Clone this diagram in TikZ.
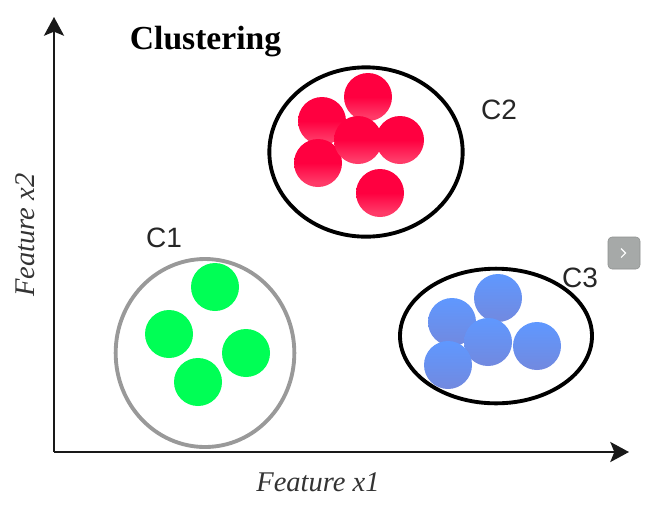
\documentclass[tikz,border=0pt]{standalone}
\usepackage{fontspec}
\setmainfont{Liberation Serif}
\newfontfamily\labelfont{Liberation Sans}
\usetikzlibrary{arrows.meta,shapes.geometric}
\definecolor{redtop}{HTML}{FF0040}
\definecolor{redbot}{HTML}{FF3A68}
\definecolor{bluetop}{HTML}{5F98FF}
\definecolor{bluebot}{HTML}{7289DF}
\definecolor{greendot}{HTML}{00FF55}
\definecolor{ringgray}{HTML}{999999}
\definecolor{btngray}{HTML}{A6A9A8}
\pgfdeclareverticalshading{redball}{100bp}{color(0bp)=(redbot); color(30bp)=(redbot); color(50bp)=(redtop); color(100bp)=(redtop)}
\tikzset{
  axisline/.style={line width=1.9pt,draw=black!90,-{Stealth[length=14pt,width=15pt,inset=3pt]}},
  ring/.style={ellipse,draw,line width=2.9pt,inner sep=0pt,outer sep=0pt},
  dot/.style={circle,minimum size=36pt,inner sep=0pt,outer sep=0pt},
  reddot/.style={dot,shade,shading=redball},
  bluedot/.style={dot,top color=bluetop,bottom color=bluebot},
  greenball/.style={dot,fill=greendot},
  clabel/.style={font=\labelfont\fontsize{21}{21}\selectfont,text=black!85},
  axislabel/.style={font=\itshape\fontsize{21.4}{21.4}\selectfont,text=black!80}
}
\begin{document}
\begin{tikzpicture}[x=0.75pt,y=-0.75pt]
\useasboundingbox (0,0) rectangle (648,508);
% axes
\coordinate (origin) at (54,452);
\coordinate (ytip) at (54,17);
\coordinate (xtip) at (629,452);
\draw[axisline] (origin) -- (ytip);
\draw[axisline] (origin) -- (xtip);
\node[axislabel] (xlabel) at (318,482) {Feature x1};
\node[axislabel,rotate=90] (ylabel) at (25,235) {Feature x2};
\node[font=\bfseries\fontsize{25.2}{25.2}\selectfont] (title) at (205.5,42) {Clustering};
% cluster C1
\node[ring,draw=ringgray,minimum width=134pt,minimum height=141pt] (ringa) at (205,353) {};
\node[greenball] (a1) at (215,287) {};
\node[greenball] (a2) at (169,334) {};
\node[greenball] (a3) at (246,353) {};
\node[greenball] (a4) at (198,382) {};
\node[clabel] (ca) at (164,238) {C1};
% cluster C2
\node[ring,minimum width=145pt,minimum height=127pt] (ringb) at (366,152) {};
\node[reddot] (b1) at (322,121) {};
\node[reddot] (b2) at (368,97) {};
\node[reddot] (b3) at (400,140) {};
\node[reddot] (b4) at (318,163) {};
\node[reddot] (b5) at (358,140) {};
\node[reddot] (b6) at (380,193) {};
\node[clabel] (cb) at (499,110) {C2};
% cluster C3
\node[ring,minimum width=144pt,minimum height=101pt] (ringc) at (496,336) {};
\node[bluedot] (c1) at (452,322) {};
\node[bluedot] (c2) at (498,298) {};
\node[bluedot] (c3) at (488,342) {};
\node[bluedot] (c4) at (537,346) {};
\node[bluedot] (c5) at (448,365) {};
\node[clabel] (cc) at (580,278) {C3};
% button
\node[rounded corners=3pt,fill=btngray,draw=btngray!85!black,line width=0.4pt,minimum size=24pt,inner sep=0pt] (btn) at (624,253) {};
\draw[white,line width=0.8pt] (621,248.5) -- (625.5,253) -- (621,257.5);
\end{tikzpicture}
\end{document}
